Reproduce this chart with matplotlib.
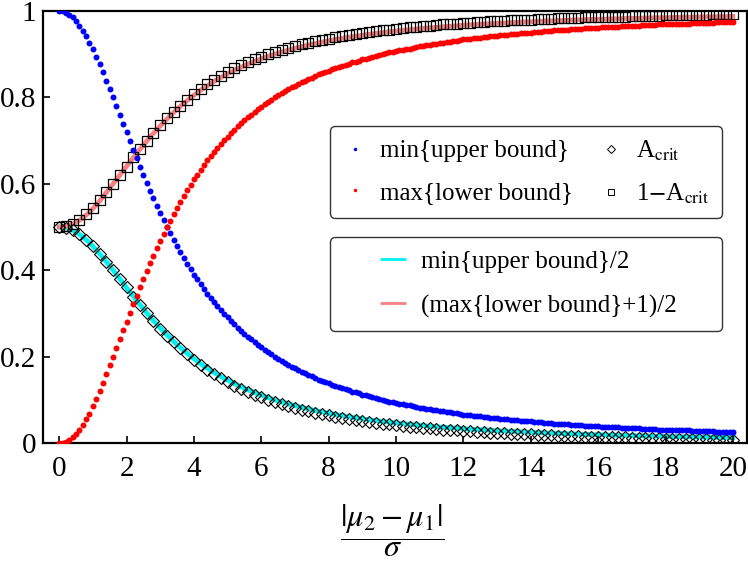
import numpy as np
import matplotlib
matplotlib.use("Agg")
import matplotlib.pyplot as plt
from matplotlib.lines import Line2D

plt.rcParams["font.family"] = ["Liberation Serif", "DejaVu Serif"]
plt.rcParams["mathtext.fontset"] = "stix"

# dots are sampled every 0.1 in |mu2-mu1|/sigma, the A_crit markers every 0.2
X_DOTS = np.linspace(0, 20, 201)
X_MARK = np.linspace(0, 20, 101)

MIN_UPPER = [
    1.000, 0.999, 0.996, 0.991, 0.985, 0.976, 0.966, 0.954, 0.941, 0.927,
    0.911, 0.894, 0.877, 0.858, 0.839, 0.820, 0.800, 0.780, 0.760, 0.739,
    0.719, 0.699, 0.679, 0.659, 0.640, 0.621, 0.602, 0.584, 0.566, 0.549,
    0.532, 0.516, 0.500, 0.485, 0.470, 0.455, 0.441, 0.428, 0.415, 0.402,
    0.390, 0.379, 0.367, 0.356, 0.346, 0.336, 0.326, 0.317, 0.308, 0.299,
    0.291, 0.283, 0.275, 0.267, 0.260, 0.253, 0.246, 0.240, 0.233, 0.227,
    0.222, 0.216, 0.210, 0.205, 0.200, 0.195, 0.190, 0.186, 0.181, 0.177,
    0.173, 0.169, 0.165, 0.161, 0.158, 0.154, 0.151, 0.147, 0.144, 0.141,
    0.138, 0.135, 0.132, 0.129, 0.127, 0.124, 0.122, 0.119, 0.117, 0.115,
    0.112, 0.110, 0.108, 0.106, 0.104, 0.102, 0.100, 0.098, 0.096, 0.095,
    0.093, 0.091, 0.090, 0.088, 0.087, 0.085, 0.084, 0.082, 0.081, 0.079,
    0.078, 0.077, 0.076, 0.074, 0.073, 0.072, 0.071, 0.070, 0.069, 0.067,
    0.066, 0.065, 0.064, 0.063, 0.062, 0.062, 0.061, 0.060, 0.059, 0.058,
    0.057, 0.056, 0.056, 0.055, 0.054, 0.053, 0.053, 0.052, 0.051, 0.050,
    0.050, 0.049, 0.048, 0.048, 0.047, 0.046, 0.046, 0.045, 0.045, 0.044,
    0.044, 0.043, 0.042, 0.042, 0.041, 0.041, 0.040, 0.040, 0.039, 0.039,
    0.039, 0.038, 0.038, 0.037, 0.037, 0.036, 0.036, 0.035, 0.035, 0.035,
    0.034, 0.034, 0.034, 0.033, 0.033, 0.032, 0.032, 0.032, 0.031, 0.031,
    0.031, 0.030, 0.030, 0.030, 0.029, 0.029, 0.029, 0.029, 0.028, 0.028,
    0.028, 0.027, 0.027, 0.027, 0.027, 0.026, 0.026, 0.026, 0.026, 0.025,
    0.025,
]

MAX_LOWER = [
    0.000, 0.001, 0.003, 0.007, 0.013, 0.021, 0.031, 0.042, 0.055, 0.068,
    0.085, 0.102, 0.120, 0.140, 0.160, 0.180, 0.200, 0.220, 0.240, 0.261,
    0.281, 0.301, 0.321, 0.341, 0.360, 0.379, 0.398, 0.416, 0.434, 0.451,
    0.468, 0.484, 0.500, 0.515, 0.530, 0.545, 0.559, 0.572, 0.585, 0.598,
    0.610, 0.621, 0.633, 0.644, 0.654, 0.664, 0.674, 0.683, 0.692, 0.701,
    0.709, 0.717, 0.725, 0.733, 0.740, 0.747, 0.754, 0.760, 0.767, 0.773,
    0.778, 0.784, 0.790, 0.795, 0.800, 0.805, 0.810, 0.814, 0.819, 0.823,
    0.827, 0.831, 0.835, 0.839, 0.842, 0.846, 0.849, 0.853, 0.856, 0.859,
    0.862, 0.865, 0.868, 0.871, 0.873, 0.876, 0.878, 0.881, 0.883, 0.885,
    0.888, 0.890, 0.892, 0.894, 0.896, 0.898, 0.900, 0.902, 0.904, 0.905,
    0.907, 0.909, 0.910, 0.912, 0.913, 0.915, 0.916, 0.918, 0.919, 0.921,
    0.922, 0.923, 0.924, 0.926, 0.927, 0.928, 0.929, 0.930, 0.931, 0.933,
    0.934, 0.935, 0.936, 0.937, 0.938, 0.938, 0.939, 0.940, 0.941, 0.942,
    0.943, 0.944, 0.944, 0.945, 0.946, 0.947, 0.947, 0.948, 0.949, 0.950,
    0.950, 0.951, 0.952, 0.952, 0.953, 0.954, 0.954, 0.955, 0.955, 0.956,
    0.956, 0.957, 0.958, 0.958, 0.959, 0.959, 0.960, 0.960, 0.961, 0.961,
    0.961, 0.962, 0.962, 0.963, 0.963, 0.964, 0.964, 0.965, 0.965, 0.965,
    0.966, 0.966, 0.966, 0.967, 0.967, 0.968, 0.968, 0.968, 0.969, 0.969,
    0.969, 0.970, 0.970, 0.970, 0.971, 0.971, 0.971, 0.971, 0.972, 0.972,
    0.972, 0.973, 0.973, 0.973, 0.973, 0.974, 0.974, 0.974, 0.974, 0.975,
    0.975,
]

A_CRIT = [
    0.500, 0.498, 0.492, 0.483, 0.471, 0.456, 0.438, 0.420, 0.400, 0.380,
    0.360, 0.339, 0.319, 0.300, 0.282, 0.265, 0.248, 0.233, 0.219, 0.205,
    0.193, 0.181, 0.170, 0.160, 0.150, 0.142, 0.133, 0.126, 0.119, 0.112,
    0.106, 0.100, 0.095, 0.090, 0.086, 0.081, 0.077, 0.074, 0.070, 0.067,
    0.064, 0.061, 0.058, 0.056, 0.053, 0.051, 0.049, 0.047, 0.045, 0.043,
    0.041, 0.040, 0.038, 0.037, 0.035, 0.034, 0.033, 0.031, 0.030, 0.029,
    0.028, 0.027, 0.026, 0.025, 0.024, 0.024, 0.023, 0.022, 0.021, 0.021,
    0.020, 0.019, 0.019, 0.018, 0.017, 0.017, 0.016, 0.016, 0.015, 0.015,
    0.014, 0.014, 0.013, 0.013, 0.013, 0.012, 0.012, 0.011, 0.011, 0.011,
    0.010, 0.010, 0.010, 0.009, 0.009, 0.009, 0.009, 0.008, 0.008, 0.008,
    0.008,
]

upper = np.array(MIN_UPPER)
lower = np.array(MAX_LOWER)
acrit = np.array(A_CRIT)

fig = plt.figure(figsize=(7.48, 5.63), dpi=100)
ax = fig.add_axes([0.0575, 0.2131, 0.9412, 0.7674])

# half-bound curves sit underneath the open markers
ax.plot(X_DOTS, upper / 2, color="#00f0f0", lw=3.4, zorder=1)
ax.plot(X_DOTS, (lower + 1) / 2, color="#f88080", lw=3.4, zorder=1)

ax.plot(X_DOTS, upper, "o", color="#0000ff", ms=4.3, mew=0, zorder=3)
ax.plot(X_DOTS, lower, "o", color="#ff0000", ms=4.3, mew=0, zorder=3)
ax.plot(X_MARK, acrit, "D", mfc="none", mec="black", ms=5.8, mew=0.8, zorder=2)
ax.plot(X_MARK, 1 - acrit, "s", mfc="none", mec="black", ms=6.8, mew=0.9, zorder=2)

ax.set_xlim(-0.48, 20.42)
ax.set_ylim(0, 1)
ax.set_xticks(range(0, 21, 2))
ax.set_yticks([0, 0.2, 0.4, 0.6, 0.8, 1])
ax.set_yticklabels(["0", "0.2", "0.4", "0.6", "0.8", "1"])
ax.tick_params(direction="in", length=5, width=1.2, labelsize=21)
ax.tick_params(axis="x", pad=9)
ax.tick_params(axis="y", pad=5)
for s in ax.spines.values():
    s.set_linewidth(1.6)

fig.text(0.525, 0.057, r"$\dfrac{|\mu_2-\mu_1|}{\sigma}$", fontsize=23,
         ha="center", va="center")

h1 = [
    Line2D([], [], ls="none", marker="o", color="#0000ff", ms=2.5, mew=0),
    Line2D([], [], ls="none", marker="o", color="#ff0000", ms=2.5, mew=0),
    Line2D([], [], ls="none", marker="D", mfc="none", mec="black", ms=4, mew=0.7),
    Line2D([], [], ls="none", marker="s", mfc="none", mec="black", ms=4, mew=0.7),
]
l1 = ["min{upper bound}", "max{lower bound}",
      r"A$_{\rm crit}$", r"1$-$A$_{\rm crit}$"]
leg1 = ax.legend(h1, l1, ncol=2, loc="upper left", mode="expand",
                 bbox_to_anchor=(0.408, 0.523, 0.556, 0.211), borderaxespad=0,
                 fontsize=18, handlelength=1.0, handletextpad=0.5,
                 columnspacing=0.3, labelspacing=0.75, borderpad=0.5,
                 fancybox=True, edgecolor="#333333", framealpha=1)
leg1.get_frame().set_linewidth(1.0)
ax.add_artist(leg1)

# proxy lines with a leading gap so the short handle sits further right
h2 = [
    Line2D([], [], color="#00f0f0", lw=2, ls=(0, (0.01, 13, 13, 100)), dash_capstyle="butt"),
    Line2D([], [], color="#f88080", lw=2, ls=(0, (0.01, 13, 13, 100)), dash_capstyle="butt"),
]
l2 = ["min{upper bound}/2", "(max{lower bound}+1)/2"]
leg2 = ax.legend(h2, l2, loc="upper left", mode="expand",
                 bbox_to_anchor=(0.408, 0.262, 0.556, 0.215), borderaxespad=0,
                 fontsize=18, handlelength=2.5, handletextpad=0.6,
                 labelspacing=0.85, borderpad=0.55,
                 fancybox=True, edgecolor="#333333", framealpha=1)
leg2.get_frame().set_linewidth(1.0)

fig.savefig("out.png", dpi=100)
